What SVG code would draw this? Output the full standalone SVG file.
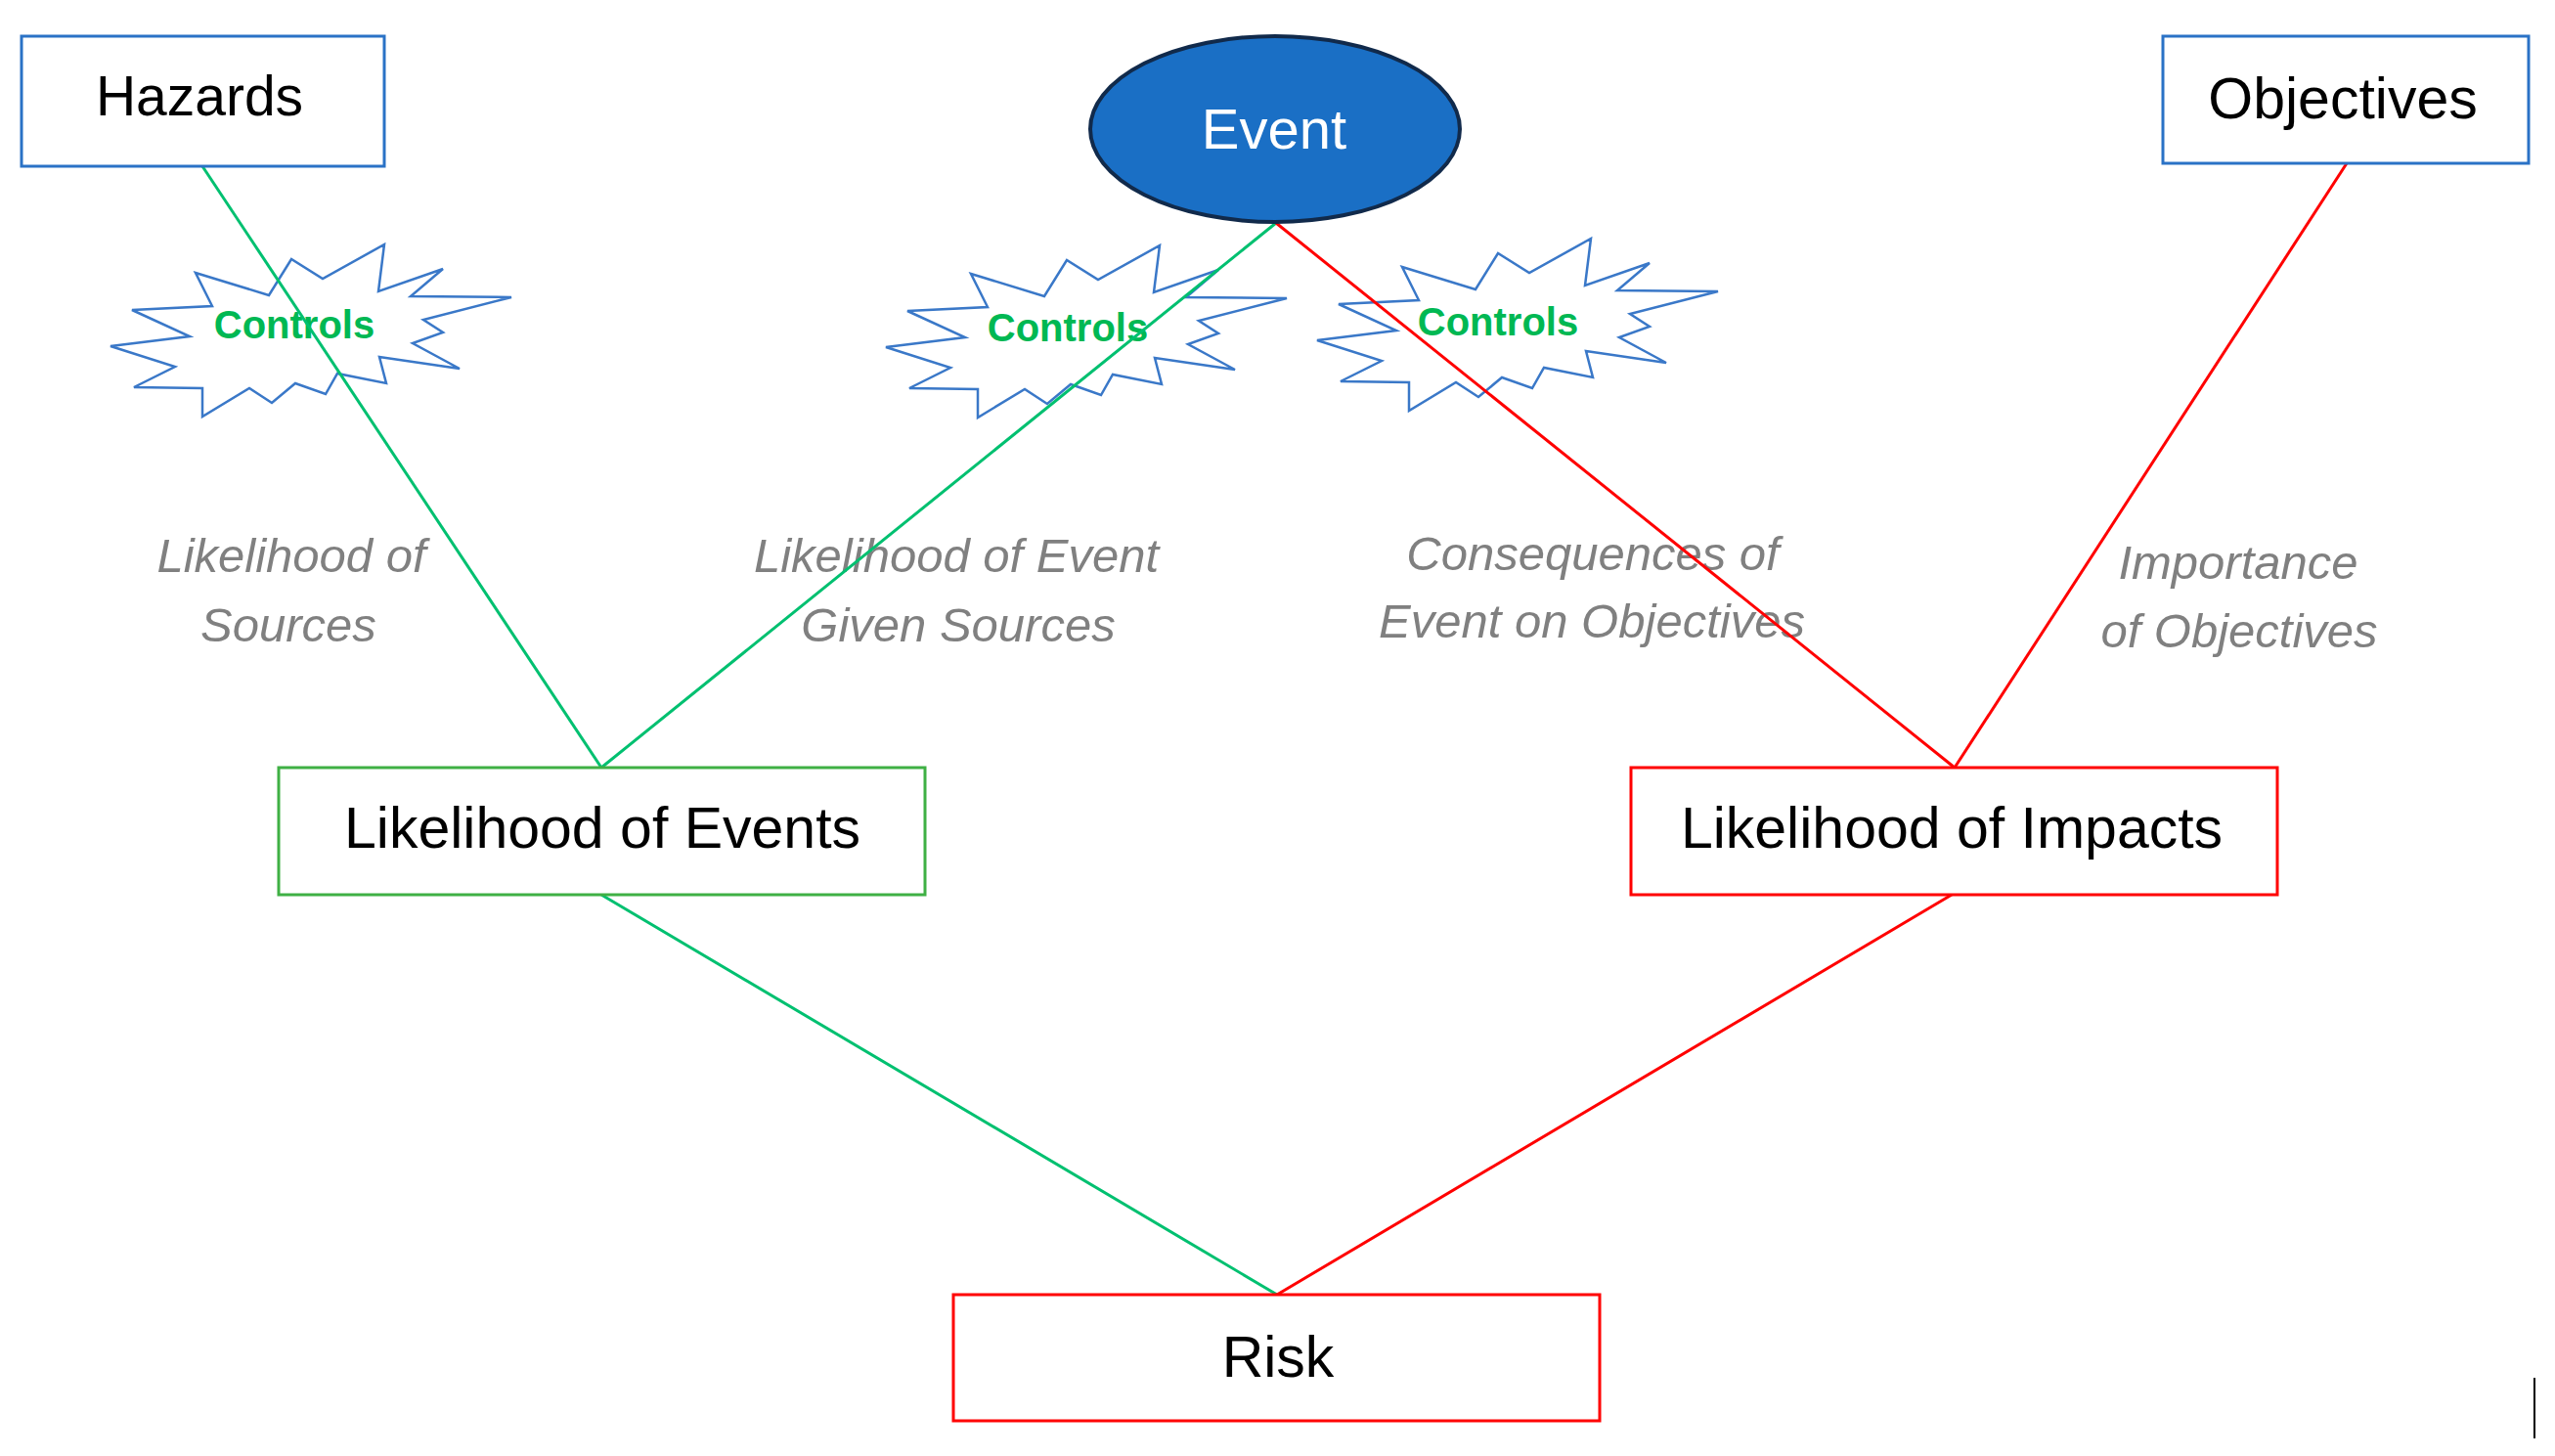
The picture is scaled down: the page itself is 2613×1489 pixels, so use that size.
<svg xmlns="http://www.w3.org/2000/svg" xmlns:xlink="http://www.w3.org/1999/xlink" width="2613" height="1489" viewBox="0 0 2613 1489">
  <style>
    .box { fill: #ffffff; stroke-width: 3; }
    .blue { stroke: #2a72c6; }
    .greenbox { stroke: #3fb044; }
    .redbox { stroke: #ff0000; }
    .main { font-family: "Liberation Sans", Arial, sans-serif; font-size: 59px; fill: #000000; text-anchor: middle; }
    .lbl { font-family: "Liberation Sans", Arial, sans-serif; font-size: 49px; font-style: italic; fill: #808080; text-anchor: middle; }
    .ctl { font-family: "Liberation Sans", Arial, sans-serif; font-size: 40px; font-weight: bold; fill: #00b853; text-anchor: middle; }
    .burst { fill: #ffffff; stroke: #3a78c8; stroke-width: 2.5; stroke-linejoin: miter; }
    .conn { fill: none; stroke-width: 3; }
    .g { stroke: #00c070; }
    .r { stroke: #ff0000; }
  </style>
  <defs>
    <path id="burstShape" d="M200,279 L275,302 L298,265 L330,285 L393,250 L387,298 L453,275 L420,303 L523,304 L433,327 L453,340 L422,351 L470,377 L388,365 L395,392 L345,382 L333,403 L302,392 L278,412 L255,397 L207,426 L207,397 L137,396 L179,375 L113,354 L194,344 L135,317 L217,313 Z"/>
  </defs>
  <rect width="2613" height="1489" fill="#ffffff"/>

  <g id="controls1">
    <use xlink:href="#burstShape" href="#burstShape" class="burst"/>
    <text class="ctl" x="301" y="346">Controls</text>
  </g>
  <g id="controls2">
    <use xlink:href="#burstShape" href="#burstShape" class="burst" transform="translate(793,1)"/>
    <text class="ctl" x="1092" y="349">Controls</text>
  </g>
  <g id="controls3">
    <use xlink:href="#burstShape" href="#burstShape" class="burst" transform="translate(1234,-6)"/>
    <text class="ctl" x="1532" y="343">Controls</text>
  </g>

  <g id="labels">
    <text class="lbl" x="298" y="585">Likelihood of</text>
    <text class="lbl" x="295" y="656">Sources</text>
    <text class="lbl" x="978" y="585">Likelihood of Event</text>
    <text class="lbl" x="980" y="656">Given Sources</text>
    <text class="lbl" x="1629" y="583">Consequences of</text>
    <text class="lbl" x="1628" y="652">Event on Objectives</text>
    <text class="lbl" x="2289" y="592">Importance</text>
    <text class="lbl" x="2290" y="662">of Objectives</text>
  </g>

  <g id="connectors">
    <path class="conn g" d="M207,170 L615,785"/>
    <path class="conn g" d="M1305,228 L615,785"/>
    <path class="conn r" d="M1305,228 L1999,785"/>
    <path class="conn r" d="M2400,167 L1999,785"/>
    <path class="conn g" d="M615,915 L1306,1324"/>
    <path class="conn r" d="M1996,915 L1306,1324"/>
  </g>

  <g id="hazards">
    <rect class="box blue" x="22" y="37" width="371" height="133"/>
    <text class="main" x="204" y="118" style="font-size:57px">Hazards</text>
  </g>
  <g id="event">
    <ellipse cx="1304" cy="132" rx="189" ry="95" fill="#1a6fc5" stroke="#112a4b" stroke-width="4"/>
    <text class="main" x="1303" y="152" style="font-size:58px;fill:#ffffff">Event</text>
  </g>
  <g id="objectives">
    <rect class="box blue" x="2212" y="37" width="374" height="130"/>
    <text class="main" x="2396" y="121">Objectives</text>
  </g>
  <g id="likelihood-events">
    <rect class="box greenbox" x="285" y="785" width="661" height="130"/>
    <text class="main" x="616" y="867">Likelihood of Events</text>
  </g>
  <g id="likelihood-impacts">
    <rect class="box redbox" x="1668" y="785" width="661" height="130"/>
    <text class="main" x="1996" y="867">Likelihood of Impacts</text>
  </g>
  <g id="risk">
    <rect class="box redbox" x="975" y="1324" width="661" height="129"/>
    <text class="main" x="1307" y="1408">Risk</text>
  </g>
  <line x1="2592" y1="1409" x2="2592" y2="1471" stroke="#000000" stroke-width="2"/>
</svg>
